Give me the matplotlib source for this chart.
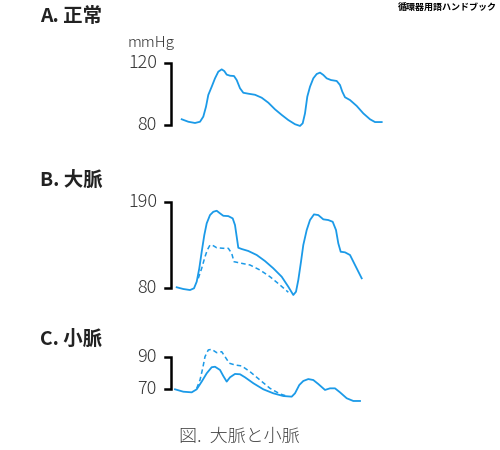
import matplotlib
matplotlib.use("Agg")
import matplotlib.pyplot as plt

plt.rcParams['font.family'] = ['Noto Sans CJK JP', 'DejaVu Sans']

BLUE = "#1b9ae8"

# A. 正常 (time in px-like units, pressure in mmHg)
t_a = [181.7, 188.3, 195, 200, 203.3, 206, 208.3, 211.7, 215, 218.3, 221.7, 224.3,
       226.7, 230, 234, 236.7, 240, 243.3, 248.3, 255, 261.7, 268.3, 275, 281.7,
       288.3, 295, 300, 302.7, 305, 307.3, 310, 313.3, 316.7, 320, 323.3, 326.7,
       331, 336.7, 340, 342.3, 345, 350, 356.7, 363.3, 370, 375, 381.7]
p_a = [83.7, 82.1, 81.3, 82.1, 85.4, 91.8, 99.4, 104.7, 110.1, 114.4, 115.9, 114.8,
       112.5, 111.8, 111.6, 109, 103.7, 100.8, 100.2, 99.5, 97.6, 94.4, 90.1, 86.5,
       83.2, 80.5, 79.4, 81.1, 87.5, 98.3, 104.7, 110.1, 112.9, 113.8, 112.3, 110.1,
       109, 108.4, 105.8, 101.5, 97.9, 96.1, 92.3, 87.5, 83.7, 81.9, 81.9]

# B. 大脈
t_b = [176.7, 183.3, 190, 194, 196.7, 199.3, 201.7, 204.3, 206.7, 210, 213.3, 216.7,
       220, 223.3, 228.3, 232.7, 235, 236.7, 238.3, 241.7, 248.3, 256.7, 265, 273.3,
       281.7, 288.3, 293.3, 296, 298.3, 301, 303.3, 306.7, 310, 314, 318.3, 323.3,
       328.3, 332.7, 336, 338.3, 340.7, 345, 350, 355, 361.7]
p_b = [81.3, 79.1, 77.8, 80, 88.4, 105.4, 126.4, 147.6, 162.5, 173, 177.2, 178.5,
       175.2, 172.1, 171.7, 168.8, 160.3, 145.5, 131.5, 129.9, 127.4, 122.3, 114.6,
       105.4, 94.7, 82, 71.5, 75.7, 90.5, 113.8, 135, 154, 166.7, 173.9, 173, 167.6,
       166.7, 164.5, 154, 137.1, 126.4, 125.7, 122.3, 109.6, 92.7]
t_b_normal = [198.3, 201.7, 205, 207.3, 210, 213.3, 216.7, 223.3, 228.3, 231.7, 234,
              241.7, 250, 260, 270, 280, 288.3]
p_b_normal = [92.7, 105.4, 120.1, 128.6, 135, 134.1, 131.5, 130.8, 130.8, 124.4,
              113.8, 111.7, 109.6, 103.2, 94.7, 84.2, 75]

# C. 小脈
t_c = [175, 183.3, 191.7, 196.7, 201.7, 206.7, 211.7, 215, 220, 223.3, 226.7, 230,
       235, 240, 245, 253.3, 263.3, 273.3, 283.3, 291.7, 295, 299.3, 303.3, 308.3,
       313.3, 318.3, 325, 330, 335, 340, 346.7, 353.3, 360]
p_c = [70, 68.5, 68.1, 70, 74.8, 80, 83.8, 84.1, 82.1, 78.3, 74.8, 77.5, 79.6, 79.4,
       77.5, 73.8, 70, 67.5, 65.8, 65.4, 67.5, 72.7, 75.2, 76.4, 75.8, 73.3, 69.6,
       70.6, 70.6, 68.1, 64.4, 62.7, 62.7]
t_c_normal = [196.7, 200, 202.7, 205, 208.3, 211.7, 216.7, 221.7, 225, 229.3, 235,
              241.7, 250, 260, 270, 280, 286.7]
p_c_normal = [70.6, 75.8, 83.1, 90.4, 94.6, 95, 92.9, 93.5, 90.4, 86.3, 85.2, 84.6,
              81, 75.8, 70.6, 67.1, 65.8]

W, H = 500, 450
fig = plt.figure(figsize=(5, 4.5), dpi=100)


def panel(top, bot, lo, y_lo, hi, y_hi):
    # axes over full width, rows top..bot (pixels); lo/hi values sit at rows y_lo/y_hi
    k = (hi - lo) / (y_lo - y_hi)
    ax = fig.add_axes([0, 1 - bot / H, 1, (bot - top) / H])
    ax.set_xlim(0, W)
    ax.set_ylim(lo - (bot - y_lo) * k, hi + (y_hi - top) * k)
    ax.axis("off")
    # scale bar
    ax.plot([165, 171, 171, 165], [hi, hi, lo, lo], color="black", lw=1.8,
            solid_joinstyle="miter")
    for v in (lo, hi):
        ax.text(157, v, str(v), ha="right", va="center", fontsize=13,
                fontweight="light", color="#333333")
    return ax


ax_a = panel(50, 140, 80, 125, 120, 63)
ax_a.plot(t_a, p_a, color=BLUE, lw=1.3)

ax_b = panel(190, 305, 80, 288.3, 190, 201.7)
ax_b.plot(t_b, p_b, color=BLUE, lw=1.3)
ax_b.plot(t_b_normal, p_b_normal, color=BLUE, lw=1.1, dashes=(3, 2))

ax_c = panel(340, 410, 70, 389.3, 90, 357.3)
ax_c.plot(t_c, p_c, color=BLUE, lw=1.3)
ax_c.plot(t_c_normal, p_c_normal, color=BLUE, lw=1.1, dashes=(3, 2))

for y, s in ((17, "A. 正常"), (180, "B. 大脈"), (339, "C. 小脈")):
    fig.text(40 / W, 1 - y / H, s, fontsize=14, fontweight="bold",
             va="center", color="#222222")
fig.text(151 / W, 1 - 43 / H, "mmHg", fontsize=11, fontweight="light",
         ha="center", va="center", color="#333333")
fig.text(239 / W, 1 - 437 / H, "図.  大脈と小脈", fontsize=13, fontweight="light",
         ha="center", va="center", color="#444444")
fig.text(497 / W, 1 - 7 / H, "循環器用語ハンドブック", fontsize=6.5, ha="right",
         va="center", fontweight="bold", color="black")

fig.savefig("out.png", dpi=100)
